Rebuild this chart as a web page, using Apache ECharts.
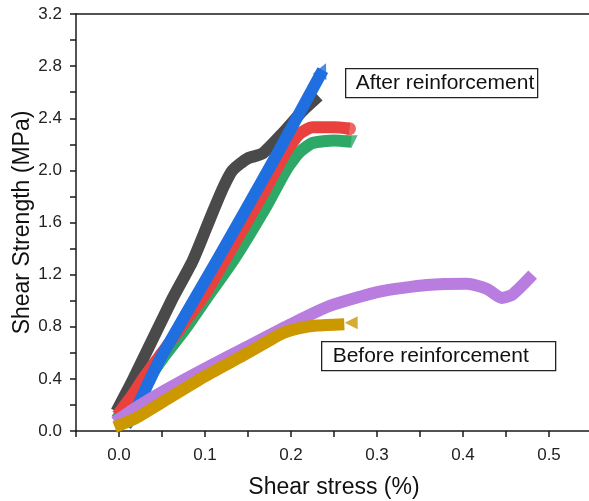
<!DOCTYPE html>
<html>
<head>
<meta charset="utf-8">
<script src="https://cdn.jsdelivr.net/npm/echarts@6/dist/echarts.min.js"></script>
<style>
  html, body { margin: 0; padding: 0; background: #fff; }
  #chart { width: 589px; height: 501px; }
</style>
</head>
<body>
<div id="chart"></div>
<script>
// 数据 [shear stress (%), shear strength (MPa)]
const grayCurve = [[-0.003, 0.15], [0.016, 0.39], [0.061, 1.0], [0.086, 1.31], [0.109, 1.68], [0.122, 1.88], [0.132, 2.0], [0.149, 2.09], [0.167, 2.13], [0.191, 2.29], [0.214, 2.46], [0.232, 2.57]]
const blueCurve = [[0.008, 0.04], [0.02, 0.17], [0.035, 0.38], [0.05, 0.58], [0.114, 1.31], [0.18, 2.08], [0.237, 2.77]]
const redCurve = [[-0.002, 0.12], [0.015, 0.27], [0.03, 0.42], [0.05, 0.6], [0.1, 1.05], [0.123, 1.31], [0.17, 1.85], [0.195, 2.15], [0.21, 2.28], [0.225, 2.33], [0.25, 2.33], [0.268, 2.32]]
const greenCurve = [[-0.003, 0.09], [0.024, 0.31], [0.05, 0.55], [0.079, 0.8], [0.102, 1.02], [0.133, 1.31], [0.17, 1.71], [0.195, 2.01], [0.21, 2.14], [0.225, 2.21], [0.25, 2.23], [0.27, 2.22]]
const purpleCurve = [[-0.005, 0.07], [0.02, 0.18], [0.05, 0.3], [0.1, 0.48], [0.15, 0.65], [0.2, 0.82], [0.245, 0.96], [0.303, 1.07], [0.358, 1.12], [0.405, 1.13], [0.428, 1.09], [0.445, 1.02], [0.458, 1.05], [0.481, 1.2]]
const goldCurve = [[-0.005, 0.03], [0.02, 0.1], [0.05, 0.22], [0.1, 0.42], [0.15, 0.6], [0.19, 0.75], [0.21, 0.79], [0.23, 0.81], [0.262, 0.82]]
const goldEnd = [0.27, 0.83]

const xTicks = [0.0, 0.1, 0.2, 0.3, 0.4, 0.5]
const yTicks = [0.0, 0.4, 0.8, 1.2, 1.6, 2.0, 2.4, 2.8, 3.2]

const font = 'Arial, "Liberation Sans", sans-serif'
const chart = echarts.init(document.getElementById('chart'))

function curve (data, color, z) {
    return {
        type: 'line',
        data: data,
        smooth: 0.2,
        symbol: 'none',
        z: z,
        lineStyle: { color: color, width: 12, join: 'round', cap: 'butt' }
    }
}

function endMark (point, symbol, size, rotate, color) {
    return {
        type: 'scatter',
        data: [point],
        symbol: symbol,
        symbolSize: size,
        symbolRotate: rotate,
        itemStyle: { color: color },
        z: 10
    }
}

const option = {
    animation: false,
    grid: { left: 76, top: 14, width: 516, height: 417, outerBoundsMode: 'none', containLabel: false },
    xAxis: [{
        type: 'value',
        min: -0.05,
        max: 0.55,
        interval: 0.05,
        name: 'Shear stress (%)',
        nameLocation: 'middle',
        nameGap: 45,
        nameMoveOverlap: false,
        nameTextStyle: { fontFamily: font, fontSize: 23, color: '#111' },
        axisLine: { onZero: false, lineStyle: { color: '#1a1a1a', width: 1.5 } },
        axisTick: { show: true, length: 6, lineStyle: { color: '#1a1a1a', width: 1.5 } },
        axisLabel: {
            fontFamily: font,
            fontSize: 17,
            color: '#222',
            margin: 16,
            formatter: v => {
                const hit = xTicks.find(t => Math.abs(t - v) < 1e-6)
                return hit === undefined ? '' : hit.toFixed(1)
            }
        },
        splitLine: { show: false }
    }, {
        type: 'value',
        position: 'top',
        min: -0.05,
        max: 0.55,
        axisLine: { show: true, onZero: false, lineStyle: { color: '#1a1a1a', width: 1.5 } },
        axisTick: { show: false },
        axisLabel: { show: false },
        splitLine: { show: false }
    }],
    yAxis: {
        type: 'value',
        min: 0,
        max: 3.2,
        interval: 0.2,
        name: 'Shear Strength (MPa)',
        nameLocation: 'middle',
        nameGap: 42,
        nameMoveOverlap: false,
        nameTextStyle: { fontFamily: font, fontSize: 23, color: '#111' },
        axisLine: { show: true, onZero: false, lineStyle: { color: '#1a1a1a', width: 1.5 } },
        axisTick: { show: true, length: 6, lineStyle: { color: '#1a1a1a', width: 1.5 } },
        axisLabel: {
            fontFamily: font,
            fontSize: 17,
            color: '#222',
            margin: 14,
            formatter: v => {
                const hit = yTicks.find(t => Math.abs(t - v) < 1e-6)
                return hit === undefined ? '' : hit.toFixed(1)
            }
        },
        splitLine: { show: false }
    },
    series: [
        curve(grayCurve, '#4a4a4a', 2),
        curve(greenCurve, '#2ea866', 3),
        curve(redCurve, '#e8413e', 4),
        curve(blueCurve, '#1f6fe0', 5),
        curve(purpleCurve, '#b87ddf', 6),
        curve(goldCurve, '#cc9800', 7),
        endMark(blueCurve[blueCurve.length - 1], 'triangle', 15, -25, '#1f6fe0'),
        endMark(redCurve[redCurve.length - 1], 'circle', 13, 0, '#e8413e'),
        endMark(greenCurve[greenCurve.length - 1], 'triangle', 13, 180, '#2ea866'),
        endMark(goldEnd, 'triangle', 13, 90, '#cc9800')
    ],
    graphic: [
        {
            type: 'group',
            left: 345,
            top: 68,
            children: [
                { type: 'rect', shape: { x: 0, y: 0, width: 192, height: 29 }, style: { fill: '#fff', stroke: '#222', lineWidth: 1.3 } },
                { type: 'text', x: 10, y: 15, style: { text: 'After reinforcement', font: '21px ' + font, fill: '#111', verticalAlign: 'middle' } }
            ]
        },
        {
            type: 'group',
            left: 321,
            top: 341,
            children: [
                { type: 'rect', shape: { x: 0, y: 0, width: 234, height: 29 }, style: { fill: '#fff', stroke: '#222', lineWidth: 1.3 } },
                { type: 'text', x: 11, y: 15, style: { text: 'Before reinforcement', font: '21px ' + font, fill: '#111', verticalAlign: 'middle' } }
            ]
        }
    ]
}

chart.setOption(option)
</script>
</body>
</html>
